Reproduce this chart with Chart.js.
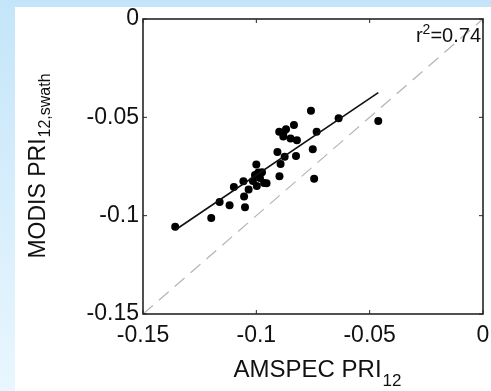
<!DOCTYPE html>
<html>
<head>
<meta charset="utf-8">
<script src="https://cdn.jsdelivr.net/npm/chart.js@4.4.0/dist/chart.umd.min.js"></script>
<style>
  html, body { margin: 0; padding: 0; }
  body {
    width: 491px; height: 391px; overflow: hidden; position: relative;
    background: linear-gradient(to bottom, #c4e5f9 0%, #e9f6fe 100%);
  }
  #panel { position: absolute; left: 15px; top: 7px; width: 476px; height: 384px; background: #fff; }
  #chart { position: absolute; left: 0; top: 0; }
</style>
</head>
<body>
<div id="panel"></div>
<canvas id="chart" width="491" height="391"></canvas>
<script>
// AMSPEC PRI12 (x) vs MODIS PRI12,swath (y)
const amspec = [
  -0.1358, -0.1199, -0.1162, -0.1118, -0.1099, -0.1054, -0.1050, -0.1057, -0.1034,
  -0.1015, -0.1000, -0.0998, -0.0991, -0.0984, -0.0975, -0.0966, -0.0955, -0.1006,
  -0.0907, -0.0893, -0.0898, -0.0875, -0.0899, -0.0881, -0.0869, -0.0881, -0.0849,
  -0.0834, -0.0821, -0.0825, -0.0759, -0.0734, -0.0751, -0.0745, -0.0637, -0.0462
];
const modis = [
  -0.1056, -0.1012, -0.0930, -0.0947, -0.0854, -0.0903, -0.0957, -0.0825, -0.0867,
  -0.0824, -0.0740, -0.0849, -0.0780, -0.0808, -0.0779, -0.0834, -0.0835, -0.0793,
  -0.0676, -0.0737, -0.0800, -0.0700, -0.0573, -0.0581, -0.0561, -0.0598, -0.0607,
  -0.0539, -0.0617, -0.0697, -0.0467, -0.0573, -0.0662, -0.0812, -0.0505, -0.0519
];
// regression line end points
const fitX = [-0.1358, -0.0462];
const fitY = [-0.1073, -0.0374];
// 1:1 line
const oneToOne = [-0.15, 0];

const tickValues = [-0.15, -0.1, -0.05, 0];
const tickLabels = ['-0.15', '-0.1', '-0.05', '0'];
const rSquared = '0.74';

const FONT = '"Liberation Sans", Arial, Helvetica, sans-serif';

// MATLAB-like box, inward ticks, titles with subscripts
const frame = {
  id: 'frame',
  afterDraw(chart) {
    const { ctx, chartArea: a, scales } = chart;
    ctx.save();
    ctx.strokeStyle = '#262626';
    ctx.lineWidth = 1.6;
    ctx.strokeRect(a.left, a.top, a.right - a.left, a.bottom - a.top);
    ctx.lineWidth = 1;
    ctx.beginPath();
    tickValues.forEach(v => {
      const x = scales.x.getPixelForValue(v);
      ctx.moveTo(x, a.bottom); ctx.lineTo(x, a.bottom - 4);
      ctx.moveTo(x, a.top); ctx.lineTo(x, a.top + 4);
      const y = scales.y.getPixelForValue(v);
      ctx.moveTo(a.left, y); ctx.lineTo(a.left + 4, y);
      ctx.moveTo(a.right, y); ctx.lineTo(a.right - 4, y);
    });
    ctx.stroke();

    ctx.fillStyle = '#111';
    ctx.textBaseline = 'alphabetic';
    ctx.textAlign = 'left';

    // x title
    ctx.font = '24px ' + FONT;
    const xMain = 'AMSPEC PRI';
    const wMain = ctx.measureText(xMain).width;
    ctx.font = '17px ' + FONT;
    const wSub = ctx.measureText('12').width;
    let x0 = (a.left + a.right) / 2 + 4 - (wMain + wSub) / 2;
    ctx.font = '24px ' + FONT;
    ctx.fillText(xMain, x0, 377);
    ctx.font = '17px ' + FONT;
    ctx.fillText('12', x0 + wMain + 1, 386);

    // y title
    ctx.save();
    ctx.translate(45, (a.top + a.bottom) / 2);
    ctx.rotate(-Math.PI / 2);
    ctx.font = '23px ' + FONT;
    const yMain = 'MODIS PRI';
    const wyMain = ctx.measureText(yMain).width;
    ctx.font = '16px ' + FONT;
    const wySub = ctx.measureText('12,swath').width;
    const y0 = -(wyMain + wySub) / 2;
    ctx.font = '23px ' + FONT;
    ctx.fillText(yMain, y0, 0);
    ctx.font = '16px ' + FONT;
    ctx.fillText('12,swath', y0 + wyMain + 1, 5);
    ctx.restore();

    // r^2 annotation
    ctx.font = '20px ' + FONT;
    const rest = '=' + rSquared;
    const wRest = ctx.measureText(rest).width;
    const wr = ctx.measureText('r').width;
    ctx.font = '14px ' + FONT;
    const w2 = ctx.measureText('2').width;
    const xr = a.right - 2 - wRest - w2 - wr;
    ctx.font = '20px ' + FONT;
    ctx.fillText('r', xr, 42);
    ctx.fillText(rest, xr + wr + w2, 42);
    ctx.font = '14px ' + FONT;
    ctx.fillText('2', xr + wr, 34);
    ctx.restore();
  }
};

const axisCommon = {
  type: 'linear',
  min: -0.15,
  max: 0,
  grid: { display: false, drawTicks: false },
  border: { display: false },
  afterBuildTicks: s => { s.ticks = tickValues.map(v => ({ value: v })); },
  ticks: {
    color: '#111',
    font: { family: FONT, size: 23 },
    callback: (v, i) => tickLabels[i]
  }
};

new Chart(document.getElementById('chart'), {
  type: 'scatter',
  data: {
    datasets: [
      {
        label: '1:1',
        data: oneToOne.map(v => ({ x: v, y: v })),
        showLine: true,
        borderColor: '#b4b4b4',
        borderWidth: 1.2,
        borderDash: [13, 8],
        pointRadius: 0
      },
      {
        label: 'fit',
        data: fitX.map((v, i) => ({ x: v, y: fitY[i] })),
        showLine: true,
        borderColor: '#111',
        borderWidth: 1.6,
        pointRadius: 0
      },
      {
        label: 'PRI',
        data: amspec.map((v, i) => ({ x: v, y: modis[i] })),
        backgroundColor: '#000',
        borderWidth: 0,
        pointRadius: 4
      }
    ]
  },
  options: {
    responsive: false,
    animation: false,
    layout: { padding: { top: 19, right: 0, left: 0, bottom: 0 } },
    plugins: { legend: { display: false }, tooltip: { enabled: false } },
    scales: {
      x: {
        ...axisCommon,
        ticks: { ...axisCommon.ticks, padding: 8, maxRotation: 0, autoSkip: false },
        afterFit: s => { s.height = 77; s.paddingLeft = 0; s.paddingRight = 8; }
      },
      y: {
        ...axisCommon,
        ticks: { ...axisCommon.ticks, padding: 4, autoSkip: false },
        afterFit: s => { s.width = 143; s.paddingTop = 0; s.paddingBottom = 0; }
      }
    }
  },
  plugins: [frame]
});
</script>
</body>
</html>
